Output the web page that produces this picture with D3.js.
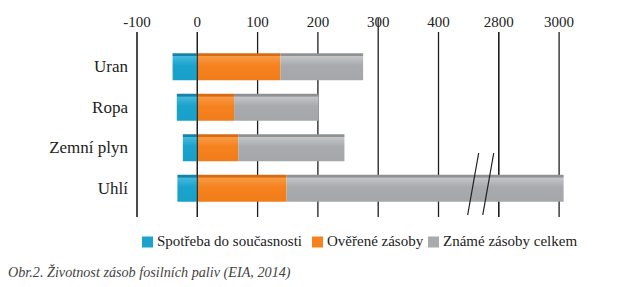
<!DOCTYPE html>
<html>
<head>
<meta charset="utf-8">
<script src="https://cdn.jsdelivr.net/npm/d3@7"></script>
</head>
<body style="margin:0;background:#fff">
<svg class="reserves" width="640" height="287"></svg>
<script>
var categories = ["Uran", "Ropa", "Zemní plyn", "Uhlí"];
var consumed = [-41, -34, -24, -33];   // Spotřeba do současnosti
var proven = [138, 61, 68, 148];       // Ověřené zásoby
var total = [275, 201, 244, 3015];     // Známé zásoby celkem
var tickValues = [-100, 0, 100, 200, 300, 400, 2800, 3000];
var breakValues = [1780, 2380];
var seriesNames = ["Spotřeba do současnosti", "Ověřené zásoby", "Známé zásoby celkem"];
var seriesColors = ["#1aa3cc", "#f5821f", "#a8aaad"];

var font = "Liberation Serif";
var svg = d3.select("svg.reserves");

// broken axis: each tick gets the same spacing
var step = 60.3, left = 137;
var x = d3.scaleLinear()
    .domain([-100, 400, 2800, 3000])
    .range([left, left + 5 * step, left + 6 * step, left + 7 * step]);

var y = d3.scaleBand()
    .domain(categories)
    .range([33, 222])
    .paddingInner(1 / 3)
    .paddingOuter(0.5);

// gradients for the bars
var defs = svg.append("defs");
var shades = [
  ["#1682a8", "#1aa3cc", "#45b8dc", "#1aa0c8"],
  ["#d86a12", "#f5821f", "#f89a45", "#f07c1a"],
  ["#8f9194", "#a8aaad", "#c3c5c7", "#a4a6a9"]
];
shades.forEach(function (s, i) {
  var g = defs.append("linearGradient")
      .attr("id", "grad" + i)
      .attr("x1", 0).attr("y1", 0).attr("x2", 0).attr("y2", 1);
  g.append("stop").attr("offset", "0%").attr("stop-color", s[0]);
  g.append("stop").attr("offset", "9%").attr("stop-color", s[0]);
  g.append("stop").attr("offset", "12%").attr("stop-color", s[2]);
  g.append("stop").attr("offset", "45%").attr("stop-color", s[1]);
  g.append("stop").attr("offset", "100%").attr("stop-color", s[3]);
});

// vertical grid lines
svg.append("g").selectAll("line")
  .data(tickValues)
  .enter().append("line")
    .attr("x1", function (d) { return x(d); })
    .attr("x2", function (d) { return x(d); })
    .attr("y1", function (d) { return d === 300 ? 18 : 32; })
    .attr("y2", 217)
    .attr("stroke", "#1e1e1e")
    .attr("stroke-width", function (d) { return d === -100 || d === 2800 ? 1.6 : 1.3; });

// tick labels
svg.append("g").selectAll("text")
  .data(tickValues)
  .enter().append("text")
    .attr("x", function (d) { return x(d); })
    .attr("y", 27)
    .attr("text-anchor", "middle")
    .style("font-family", font)
    .style("font-size", "15px")
    .style("fill", "#222")
    .text(function (d) { return d; });

// stacked segments
var segments = [];
categories.forEach(function (c, i) {
  segments.push({ cat: c, s: 0, x0: consumed[i], x1: 0 });
  segments.push({ cat: c, s: 1, x0: 0, x1: proven[i] });
  segments.push({ cat: c, s: 2, x0: proven[i], x1: total[i] });
});

svg.append("g").selectAll("rect")
  .data(segments)
  .enter().append("rect")
    .attr("x", function (d) { return x(d.x0); })
    .attr("y", function (d) { return y(d.cat); })
    .attr("width", function (d) { return x(d.x1) - x(d.x0); })
    .attr("height", y.bandwidth())
    .attr("fill", function (d) { return "url(#grad" + d.s + ")"; });

// zero line shows through the bars
svg.append("line")
    .attr("x1", x(0)).attr("x2", x(0))
    .attr("y1", 32).attr("y2", 217)
    .attr("stroke", "#1e1e1e")
    .attr("stroke-width", 1);

// axis break marks
svg.append("g").selectAll("line")
  .data(breakValues)
  .enter().append("line")
    .attr("x1", function (d) { return x(d) + 5.5; })
    .attr("y1", 153)
    .attr("x2", function (d) { return x(d) - 5.5; })
    .attr("y2", 215)
    .attr("stroke", "#1e1e1e")
    .attr("stroke-width", 1.2);

// category labels
svg.append("g").selectAll("text")
  .data(categories)
  .enter().append("text")
    .attr("x", 128)
    .attr("y", function (d) { return y(d) + y.bandwidth() / 2; })
    .attr("dy", "0.33em")
    .attr("text-anchor", "end")
    .style("font-family", font)
    .style("font-size", "17px")
    .style("fill", "#222")
    .text(function (d) { return d; });

// legend
var legendX = [142, 312, 428];
var legend = svg.append("g").selectAll("g")
  .data(seriesNames)
  .enter().append("g")
    .attr("transform", function (d, i) { return "translate(" + legendX[i] + ",236.5)"; });

legend.append("rect")
    .attr("width", 11)
    .attr("height", 11)
    .attr("fill", function (d, i) { return seriesColors[i]; });

legend.append("text")
    .attr("x", 15)
    .attr("y", 9.5)
    .style("font-family", font)
    .style("font-size", "15px")
    .style("fill", "#222")
    .text(function (d) { return d; });

// caption
svg.append("text")
    .attr("x", 8)
    .attr("y", 277)
    .style("font-family", font)
    .style("font-size", "14.2px")
    .style("font-style", "italic")
    .style("fill", "#444")
    .text("Obr.2. Životnost zásob fosilních paliv (EIA, 2014)");
</script>
</body>
</html>
